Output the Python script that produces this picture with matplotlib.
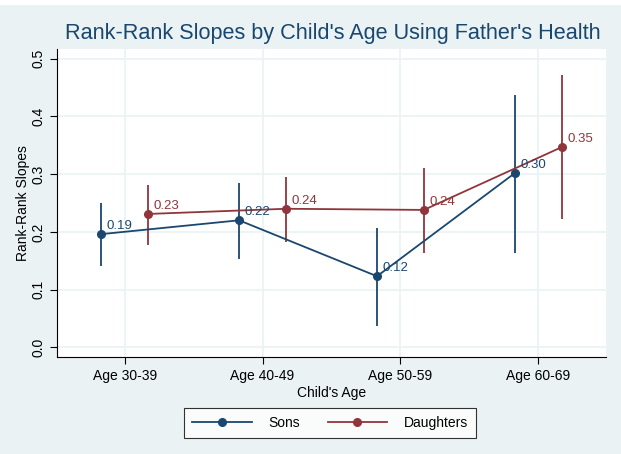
import numpy as np
import matplotlib
matplotlib.use("Agg")
import matplotlib.pyplot as plt
from matplotlib.patches import Rectangle

plt.rcParams['font.family'] = ['Liberation Sans', 'DejaVu Sans']

# data
ages = ['Age 30-39', 'Age 40-49', 'Age 50-59', 'Age 60-69']
sons = [0.196, 0.220, 0.123, 0.302]
sons_lo = [0.141, 0.153, 0.036, 0.163]
sons_hi = [0.250, 0.285, 0.207, 0.437]
daughters = [0.231, 0.240, 0.238, 0.347]
daughters_lo = [0.177, 0.182, 0.163, 0.222]
daughters_hi = [0.281, 0.295, 0.311, 0.472]
son_labels = ['0.19', '0.22', '0.12', '0.30']
daughter_labels = ['0.23', '0.24', '0.24', '0.35']

bg = '#eaf2f3'
navy = '#1a476f'
maroon = '#90353b'

fig = plt.figure(figsize=(6.21, 4.54), dpi=100, facecolor=bg)
# thin white strip at the very top, as in the screenshot
fig.patches.append(Rectangle((0, 1 - 5/454), 1, 5/454, transform=fig.transFigure,
                             facecolor='white', edgecolor='none'))
ax = fig.add_axes([57/621, 1 - 357/454, (606-57)/621, (357-49)/454])
ax.set_facecolor('white')

x = np.arange(1, 5)
off = 0.17

for xs, ys, lo, hi, labs, col, name in [
        (x - off, sons, sons_lo, sons_hi, son_labels, navy, 'Sons'),
        (x + off, daughters, daughters_lo, daughters_hi, daughter_labels, maroon, 'Daughters')]:
    ax.vlines(xs, lo, hi, color=col, lw=1.3, zorder=2)
    ax.plot(xs, ys, color=col, lw=1.3, marker='o', ms=5.5, label=name, zorder=3)
    for xi, yi, t in zip(xs, ys, labs):
        ax.annotate(t, (xi, yi), xytext=(4, 1.5), textcoords='offset points',
                    color=col, fontsize=9.5, va='bottom', ha='left', zorder=4)

ax.set_xlim(0.51, 4.49)
ax.set_ylim(-0.017, 0.517)
ax.set_xticks(x)
ax.set_xticklabels(ages, fontsize=10)
ax.set_yticks(np.arange(0, 0.51, 0.1))
ax.set_yticklabels(['%.1f' % v for v in np.arange(0, 0.51, 0.1)], rotation=90,
                   va='center', fontsize=10)
ax.grid(True, color=bg, lw=1.2, zorder=0)
ax.set_axisbelow(True)
for s in ['top', 'right']:
    ax.spines[s].set_visible(False)
ax.tick_params(length=5, width=0.8, color='black')
ax.set_xlabel("Child's Age", fontsize=10, labelpad=2)
ax.set_ylabel('Rank-Rank Slopes', fontsize=10, labelpad=1)

fig.suptitle("Rank-Rank Slopes by Child's Age Using Father's Health",
             x=333/621, y=1 - 34/454, va='center', fontsize=15.6, color=navy)

leg = ax.legend(loc='center', bbox_to_anchor=(330/621, 1 - 423/454),
                bbox_transform=fig.transFigure, ncol=2, frameon=True,
                fancybox=False, edgecolor='black', fontsize=10,
                handlelength=4.3, handletextpad=1.2, columnspacing=2.0,
                borderpad=0.55)
leg.get_frame().set_linewidth(0.8)

fig.savefig('out.png', dpi=100, facecolor=bg)
